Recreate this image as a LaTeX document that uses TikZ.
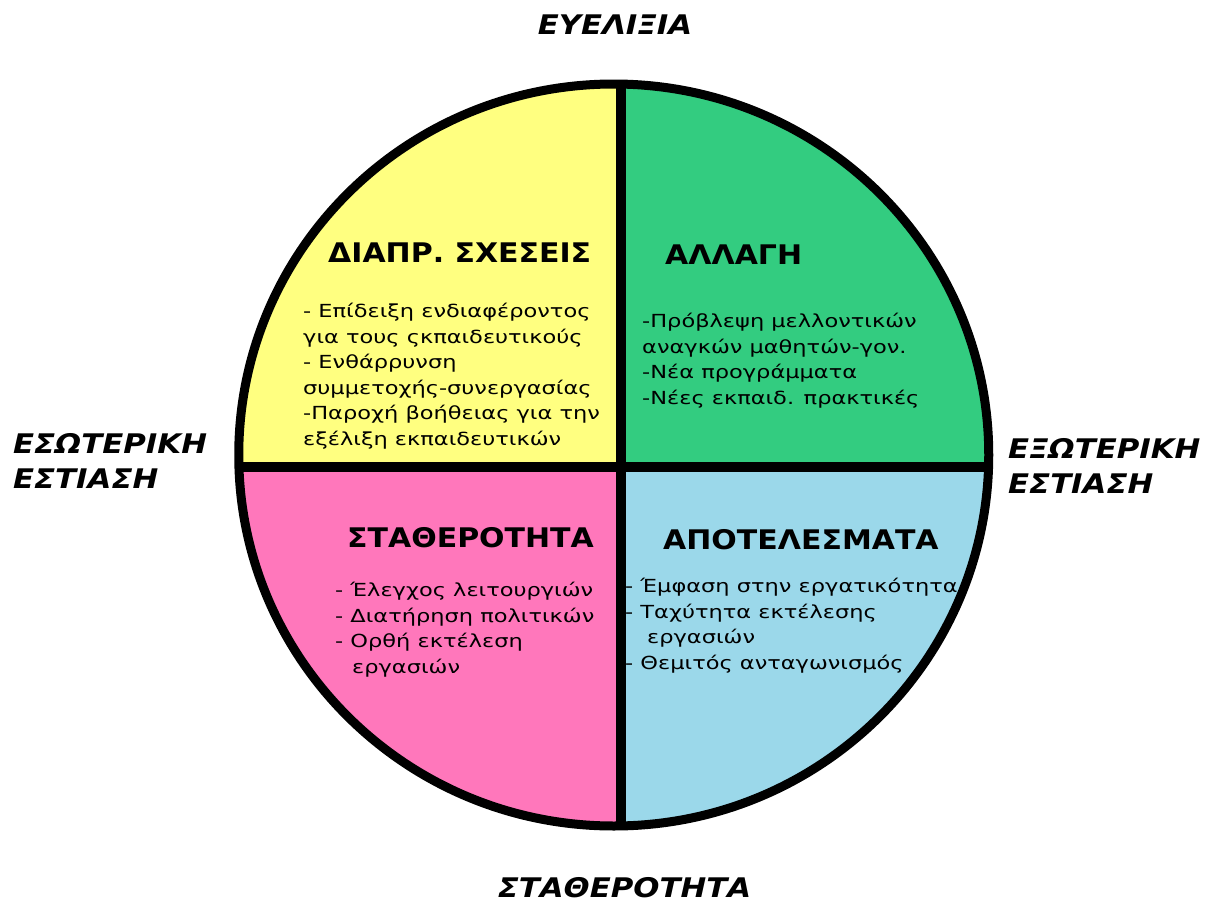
\documentclass[tikz,border=0pt]{standalone}
\usepackage{fontspec}
\setmainfont{DejaVu Sans}
\newfontfamily\keimfont{DejaVu Sans}[FakeStretch=1.25]
\newfontfamily\titlfont{DejaVu Sans}[FakeStretch=1.11]
\newfontfamily\akrifont{DejaVu Sans}[FakeStretch=1.14]
\usetikzlibrary{positioning}

\definecolor{kitrino}{RGB}{255,255,128}
\definecolor{prasino}{RGB}{51,204,128}
\definecolor{roz}{RGB}{255,119,187}
\definecolor{galazio}{RGB}{155,216,234}

\tikzset{
  titlos/.style={font=\titlfont\fontsize{27}{32}\selectfont\bfseries, anchor=west, inner sep=0pt},
  keimeno/.style={font=\keimfont\fontsize{18}{25.5}\selectfont, align=left, anchor=north west, inner sep=0pt},
  akri/.style={font=\akrifont\fontsize{27}{35.5}\selectfont\bfseries\itshape, align=left, inner sep=0pt},
}

\begin{document}
\begin{tikzpicture}[x=1pt, y=-1pt, line cap=round]
\useasboundingbox (0,0) rectangle (1211,902);

% Kyklos
\coordinate (kentro) at (613.75,455);
\coordinate (tomi) at (620.5,467);
\begin{scope}
  \clip (kentro) ellipse [x radius=375, y radius=371];
  \fill[kitrino] (230,75) rectangle (tomi);
  \fill[prasino] (tomi) rectangle (1000,75);
  \fill[roz] (tomi) rectangle (230,835);
  \fill[galazio] (tomi) rectangle (1000,835);
  % Diaxoristika
  \draw[line width=10pt] (tomi |- 0,75) -- (tomi |- 0,835);
  \draw[line width=10pt] (tomi -| 230,0) -- (tomi -| 1000,0);
\end{scope}
\draw[line width=9pt] (kentro) ellipse [x radius=375, y radius=371];

% Tetartimoria
\node[titlos] (sxeseis) at (328,253) {ΔΙΑΠΡ. ΣΧΕΣΕΙΣ};
\node[keimeno] (sxeseiskeim) at (303,303) {- Επίδειξη ενδιαφέροντος\\για τους ςκπαιδευτικούς\\- Ενθάρρυνση\\συμμετοχής-συνεργασίας\\-Παροχή βοήθειας για την\\εξέλιξη εκπαιδευτικών};

\node[titlos] (allagi) at (665,255) {ΑΛΛΑΓΗ};
\node[keimeno] (allagikeim) at (642,313) {-Πρόβλεψη μελλοντικών\\αναγκών μαθητών-γον.\\-Νέα προγράμματα\\-Νέες εκπαιδ. πρακτικές};

\node[titlos] (statherotita) at (347,538) {ΣΤΑΘΕΡΟΤΗΤΑ};
\node[keimeno] (statherotitakeim) at (335,582) {- Έλεγχος λειτουργιών\\- Διατήρηση πολιτικών\\- Ορθή εκτέλεση\\\hspace*{17pt}εργασιών};

\node[titlos] (apotelesmata) at (663,540) {ΑΠΟΤΕΛΕΣΜΑΤΑ};
\node[keimeno] (apotelesmatakeim) at (625,578) {- Έμφαση στην εργατικότητα\\- Ταχύτητα εκτέλεσης\\\hspace*{22pt}εργασιών\\- Θεμιτός ανταγωνισμός};

% Axones
\node[akri] (eyelixia) at (615,25) {ΕΥΕΛΙΞΙΑ};
\node[akri] (statherotitakato) at (624.5,888) {ΣΤΑΘΕΡΟΤΗΤΑ};
\node[akri, anchor=north west] (esoteriki) at (13,433) {ΕΣΩΤΕΡΙΚΗ\\ΕΣΤΙΑΣΗ};
\node[akri, anchor=north west] (exoteriki) at (1008,438) {ΕΞΩΤΕΡΙΚΗ\\ΕΣΤΙΑΣΗ};

\end{tikzpicture}
\end{document}
